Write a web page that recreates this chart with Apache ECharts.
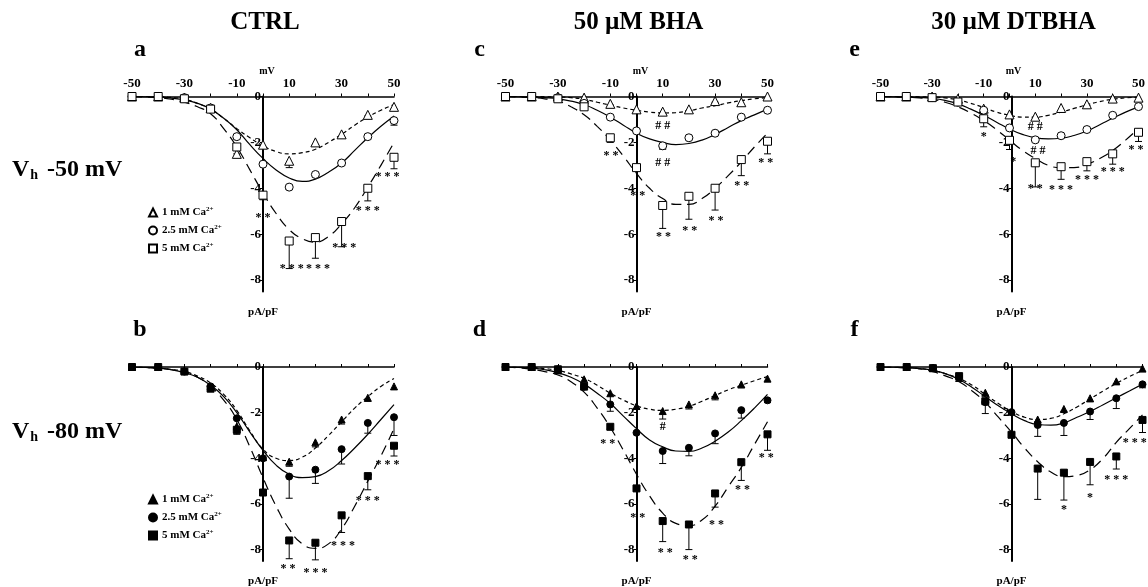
<!DOCTYPE html>
<html>
<head>
<meta charset="utf-8">
<script src="https://cdn.jsdelivr.net/npm/echarts@6/dist/echarts.min.js"></script>
<style>
html, body { margin: 0; padding: 0; background: #fff; }
#chart { width: 1148px; height: 587px; }
</style>
</head>
<body>
<div id="chart"></div>
<script>
// test potentials (mV) and points used for the fitted curves
const voltages = [-50, -40, -30, -20, -10, 0, 10, 20, 30, 40, 50];
const fitVoltages = [-50, -45, -40, -35, -30, -25, -20, -15, -10, -5, 0, 5, 10, 15, 20, 25, 30, 35, 40, 45, 50];
const xTickLabels = [-50, -30, -10, 10, 30, 50];
const yTickLabels = [0, -2, -4, -6, -8];
const columnTitles = ['CTRL', '50 µM BHA', '30 µM DTBHA'];
const rowLabels = ['-50 mV', '-80 mV'];
const panelLetters = ['a', 'b', 'c', 'd', 'e', 'f'];
const concentrations = ['1', '2.5', '5'];

// a: CTRL, Vh -50 mV
const aCa1 = [0, 0, -0.05, -0.5, -2.5, -2.1, -2.8, -2.0, -1.65, -0.8, -0.45];
const aCa1Err = [0, 0, 0, 0, 0, 0, 0.3, 0.1, 0.1, 0.05, 0.1];
const aCa2 = [0, 0, -0.05, -0.5, -1.75, -2.95, -3.95, -3.4, -2.9, -1.75, -1.05];
const aCa2Err = [0, 0, 0, 0, 0.1, 0, 0.1, 0.1, 0.1, 0.1, 0.2];
const aCa3 = [0, 0, -0.1, -0.55, -2.2, -4.3, -6.3, -6.15, -5.45, -4.0, -2.65];
const aCa3Err = [0, 0, 0, 0.1, 0.3, 0.2, 1.2, 0.9, 1.1, 0.55, 0.5];
const aFit1 = [0, 0, -0.01, -0.04, -0.12, -0.3, -0.55, -0.95, -1.4, -1.8, -2.15, -2.4, -2.5, -2.45, -2.3, -2.0, -1.65, -1.25, -0.9, -0.6, -0.35];
const aFit2 = [0, -0.01, -0.02, -0.07, -0.15, -0.3, -0.55, -0.95, -1.45, -2.1, -2.7, -3.2, -3.55, -3.7, -3.6, -3.3, -2.9, -2.35, -1.8, -1.3, -0.85];
const aFit3 = [0, -0.02, -0.05, -0.12, -0.25, -0.45, -0.75, -1.4, -2.2, -3.2, -4.2, -5.1, -5.8, -6.2, -6.35, -6.1, -5.55, -4.85, -3.95, -3.0, -2.0];
const aMarks = [[0, -5.3, '* *'], [11, -7.5, '* * *'], [21, -7.5, '* * *'], [31, -6.6, '* * *'], [40, -5.0, '* * *'], [47.5, -3.5, '* * *']];

// b: CTRL, Vh -80 mV
const bCa1 = [0, 0, -0.15, -0.85, -2.6, -3.95, -4.15, -3.3, -2.3, -1.35, -0.85];
const bCa1Err = [0, 0, 0, 0.1, 0.3, 0.1, 0.2, 0.2, 0.2, 0.15, 0];
const bCa2 = [0, 0, -0.2, -0.85, -2.25, -4.0, -4.8, -4.5, -3.6, -2.45, -2.2];
const bCa2Err = [0, 0, 0, 0.1, 0.45, 0.1, 0.95, 0.6, 0.65, 0.45, 0.8];
const bCa3 = [0, 0, -0.2, -0.95, -2.75, -5.5, -7.6, -7.7, -6.5, -4.78, -3.45];
const bCa3Err = [0, 0, 0, 0.1, 0.2, 0.1, 0.8, 0.75, 0.75, 0.6, 0.45];
const bFit1 = [0, -0.02, -0.05, -0.1, -0.2, -0.4, -0.7, -1.2, -1.9, -2.8, -3.6, -4.0, -4.1, -3.95, -3.55, -3.0, -2.4, -1.8, -1.3, -0.85, -0.5];
const bFit2 = [0, -0.02, -0.05, -0.12, -0.25, -0.45, -0.8, -1.3, -2.0, -2.85, -3.65, -4.3, -4.7, -4.85, -4.8, -4.55, -4.1, -3.55, -2.95, -2.3, -1.65];
const bFit3 = [0, -0.02, -0.05, -0.12, -0.25, -0.45, -0.85, -1.45, -2.3, -3.5, -4.85, -6.1, -7.1, -7.75, -7.95, -7.75, -7.1, -6.1, -5.0, -3.9, -2.7];
const bMarks = [[9.5, -8.85, '* *'], [20, -9.0, '* * *'], [30.5, -7.85, '* * *'], [40, -5.85, '* * *'], [47.5, -4.3, '* * *']];

// c: 50 uM BHA, Vh -50 mV
const cCa1 = [0, 0, 0, -0.05, -0.32, -0.56, -0.66, -0.56, -0.2, -0.25, 0];
const cCa1Err = [0, 0, 0, 0, 0.05, 0, 0.05, 0.05, 0.05, 0, 0];
const cCa2 = [0, 0, -0.05, -0.3, -0.9, -1.5, -2.15, -1.8, -1.6, -0.9, -0.6];
const cCa2Err = [0, 0, 0, 0, 0.05, 0, 0.15, 0.05, 0.05, 0, 0];
const cCa3 = [0, 0, -0.1, -0.45, -1.8, -3.1, -4.75, -4.35, -4.0, -2.75, -1.95];
const cCa3Err = [0, 0, 0, 0.1, 0.2, 0.1, 1.0, 1.0, 0.95, 0.7, 0.55];
const cFit1 = [0, 0, 0, -0.01, -0.02, -0.05, -0.12, -0.25, -0.38, -0.5, -0.6, -0.68, -0.72, -0.7, -0.62, -0.5, -0.4, -0.28, -0.18, -0.1, -0.05];
const cFit2 = [0, -0.01, -0.02, -0.05, -0.1, -0.2, -0.35, -0.6, -0.9, -1.25, -1.6, -1.85, -2.0, -2.1, -2.05, -1.9, -1.65, -1.35, -1.05, -0.8, -0.55];
const cFit3 = [0, -0.02, -0.05, -0.1, -0.2, -0.45, -0.8, -1.3, -1.9, -2.6, -3.35, -4.0, -4.45, -4.7, -4.7, -4.45, -4.0, -3.45, -2.85, -2.2, -1.6];
const cMarks = [[10, -1.3, '# #'], [10, -2.9, '# #'], [-9.7, -2.57, '* *'], [0.5, -4.33, '* *'], [10.3, -6.1, '* *'], [20.3, -5.84, '* *'], [30.3, -5.43, '* *'], [40.2, -3.89, '* *'], [49.3, -2.91, '* *']];

// d: 50 uM BHA, Vh -80 mV
const dCa1 = [0, 0, -0.15, -0.54, -1.15, -1.71, -1.93, -1.64, -1.24, -0.76, -0.51];
const dCa1Err = [0, 0, 0, 0, 0.45, 0, 0.35, 0.2, 0.2, 0.15, 0];
const dCa2 = [0, 0, -0.1, -0.86, -1.64, -2.88, -3.68, -3.54, -2.91, -1.89, -1.46];
const dCa2Err = [0, 0, 0, 0, 0.3, 0, 0.55, 0.35, 0.45, 0.35, 0.1];
const dCa3 = [0, 0, -0.1, -0.86, -2.62, -5.32, -6.75, -6.9, -5.54, -4.17, -2.95];
const dCa3Err = [0, 0, 0, 0, 0.1, 0, 0.9, 1.1, 0.6, 0.8, 0.7];
const dFit1 = [0, -0.01, -0.02, -0.07, -0.15, -0.3, -0.5, -0.8, -1.15, -1.45, -1.7, -1.85, -1.9, -1.85, -1.72, -1.5, -1.25, -1.0, -0.8, -0.6, -0.42];
const dFit2 = [0, -0.02, -0.05, -0.12, -0.25, -0.45, -0.75, -1.15, -1.6, -2.15, -2.7, -3.2, -3.5, -3.68, -3.7, -3.55, -3.25, -2.85, -2.35, -1.8, -1.2];
const dFit3 = [0, -0.04, -0.1, -0.2, -0.35, -0.65, -1.1, -1.8, -2.65, -3.65, -4.7, -5.65, -6.4, -6.85, -6.95, -6.7, -6.1, -5.25, -4.4, -3.4, -2.4];
const dMarks = [[10, -2.62, '#'], [-11, -3.35, '* *'], [0.5, -6.6, '* *'], [11, -8.14, '* *'], [20.5, -8.44, '* *'], [30.5, -6.9, '* *'], [40.5, -5.37, '* *'], [49.5, -3.98, '* *']];

// e: 30 uM DTBHA, Vh -50 mV
const eCa1 = [0, 0, 0, -0.1, -0.53, -0.78, -0.88, -0.5, -0.34, -0.09, -0.05];
const eCa1Err = [0, 0, 0, 0, 0.2, 0, 0.05, 0, 0.05, 0, 0];
const eCa2 = [0, 0, -0.05, -0.25, -0.6, -1.37, -1.89, -1.71, -1.44, -0.82, -0.44];
const eCa2Err = [0, 0, 0, 0, 0.05, 0, 0.05, 0, 0, 0, 0];
const eCa3 = [0, 0, -0.05, -0.24, -0.97, -1.91, -2.89, -3.06, -2.84, -2.5, -1.56];
const eCa3Err = [0, 0, 0, 0, 0.35, 0.4, 1.05, 0.55, 0.4, 0.45, 0.4];
const eFit1 = [0, 0, 0, -0.01, -0.02, -0.06, -0.15, -0.3, -0.48, -0.68, -0.82, -0.9, -0.9, -0.82, -0.68, -0.52, -0.36, -0.22, -0.12, -0.06, -0.03];
const eFit2 = [0, -0.01, -0.02, -0.04, -0.08, -0.17, -0.32, -0.55, -0.82, -1.12, -1.42, -1.65, -1.8, -1.85, -1.82, -1.7, -1.5, -1.23, -0.95, -0.68, -0.45];
const eFit3 = [0, -0.01, -0.03, -0.06, -0.12, -0.25, -0.45, -0.72, -1.05, -1.45, -1.9, -2.35, -2.7, -3.0, -3.1, -3.1, -2.95, -2.7, -2.35, -1.9, -1.4];
const eMarks = [[10, -1.34, '# #'], [11, -2.36, '# #'], [-10, -1.74, '*'], [1.5, -2.84, '*'], [10, -4.02, '* *'], [20, -4.05, '* * *'], [30, -3.65, '* * *'], [40, -3.28, '* * *'], [49, -2.33, '* *']];

// f: 30 uM DTBHA, Vh -80 mV
const fCa1 = [0, 0, -0.05, -0.48, -1.13, -1.95, -2.3, -1.84, -1.37, -0.63, -0.07];
const fCa1Err = [0, 0, 0, 0, 0.1, 0, 0.1, 0.1, 0.15, 0.1, 0];
const fCa2 = [0, 0, -0.05, -0.44, -1.54, -1.98, -2.54, -2.45, -1.95, -1.37, -0.76];
const fCa2Err = [0, 0, 0, 0.1, 0.5, 0, 0.5, 0.55, 0.35, 0.45, 0.15];
const fCa3 = [0, 0, -0.05, -0.4, -1.5, -2.97, -4.45, -4.63, -4.16, -3.92, -2.32];
const fCa3Err = [0, 0, 0, 0, 0.1, 0, 1.35, 1.2, 1.0, 0.55, 0.55];
const fFit1 = [0, -0.01, -0.03, -0.07, -0.15, -0.3, -0.5, -0.8, -1.2, -1.6, -1.95, -2.2, -2.3, -2.25, -2.05, -1.75, -1.4, -1.05, -0.72, -0.42, -0.15];
const fFit2 = [0, -0.01, -0.03, -0.07, -0.15, -0.3, -0.55, -0.9, -1.3, -1.7, -2.05, -2.35, -2.52, -2.55, -2.45, -2.2, -1.95, -1.65, -1.35, -1.05, -0.75];
const fFit3 = [0, -0.01, -0.03, -0.08, -0.2, -0.4, -0.65, -1.05, -1.55, -2.2, -2.85, -3.55, -4.15, -4.6, -4.8, -4.75, -4.5, -4.0, -3.3, -2.7, -2.1];
const fMarks = [[47, -3.33, '* * *'], [40, -4.95, '* * *'], [30, -5.73, '*'], [20, -6.24, '*']];

const FONT = 'Liberation Serif';
const gridLefts = [132, 505.5, 880.5];
const gridTops = [96.5, 367];
const gridWidth = 262;
const gridHeight = 195;

const panels = [
  { col: 0, row: 0, means: [aCa1, aCa2, aCa3], errs: [aCa1Err, aCa2Err, aCa3Err], fits: [aFit1, aFit2, aFit3], marks: aMarks },
  { col: 0, row: 1, means: [bCa1, bCa2, bCa3], errs: [bCa1Err, bCa2Err, bCa3Err], fits: [bFit1, bFit2, bFit3], marks: bMarks },
  { col: 1, row: 0, means: [cCa1, cCa2, cCa3], errs: [cCa1Err, cCa2Err, cCa3Err], fits: [cFit1, cFit2, cFit3], marks: cMarks },
  { col: 1, row: 1, means: [dCa1, dCa2, dCa3], errs: [dCa1Err, dCa2Err, dCa3Err], fits: [dFit1, dFit2, dFit3], marks: dMarks },
  { col: 2, row: 0, means: [eCa1, eCa2, eCa3], errs: [eCa1Err, eCa2Err, eCa3Err], fits: [eFit1, eFit2, eFit3], marks: eMarks },
  { col: 2, row: 1, means: [fCa1, fCa2, fCa3], errs: [fCa1Err, fCa2Err, fCa3Err], fits: [fFit1, fFit2, fFit3], marks: fMarks }
];

const symbols = ['triangle', 'circle', 'rect'];
const symbolSizes = [[9, 8, 8], [7, 7, 7]];
const fitDash = [[4, 3], 'solid', [10, 6]];

const grids = [], xAxes = [], yAxes = [], series = [];

panels.forEach((p, i) => {
  const top = p.row === 0;
  grids.push({ left: gridLefts[p.col], top: gridTops[p.row], width: gridWidth, height: gridHeight });
  xAxes.push({
    gridIndex: i, type: 'value', position: 'top', min: -50, max: 50, interval: 10,
    name: top ? 'mV' : '', nameLocation: 'middle', nameGap: 18,
    nameTextStyle: { fontFamily: FONT, fontWeight: 'bold', fontSize: 10, color: '#000', padding: [0, 0, 0, 8] },
    axisLine: { lineStyle: { color: '#000', width: 1.5 } },
    axisTick: { length: 3, lineStyle: { color: '#000' } },
    axisLabel: {
      show: top, margin: 6, fontFamily: FONT, fontWeight: 'bold', fontSize: 13, color: '#000',
      formatter: v => (xTickLabels.indexOf(v) >= 0 ? String(v) : '')
    },
    splitLine: { show: false }
  });
  // the current axis crosses the voltage axis at 0 mV (middle of the grid)
  yAxes.push({
    gridIndex: i, type: 'value', min: -8.5, max: 0, position: 'left', offset: -gridWidth / 2,
    name: 'pA/pF', nameLocation: 'start', nameGap: 15,
    nameTextStyle: { fontFamily: FONT, fontWeight: 'bold', fontSize: 11, color: '#000' },
    axisLine: { onZero: false, lineStyle: { color: '#000', width: 2 } },
    axisTick: { length: 3, customValues: yTickLabels, lineStyle: { color: '#000' } },
    axisLabel: {
      customValues: yTickLabels, margin: 2, fontFamily: FONT, fontWeight: 'bold', fontSize: 13, color: '#000'
    },
    splitLine: { show: false }
  });

  // fitted curves
  p.fits.forEach((fit, k) => {
    series.push({
      type: 'line', xAxisIndex: i, yAxisIndex: i, smooth: true, showSymbol: false, silent: true, z: 2,
      data: fitVoltages.map((v, j) => [v, fit[j]]),
      lineStyle: { color: '#000', width: 1.2, type: fitDash[k] }
    });
  });

  // error bars (one-sided, away from zero)
  p.means.forEach((m, k) => {
    const err = p.errs[k];
    series.push({
      type: 'custom', xAxisIndex: i, yAxisIndex: i, z: 3, silent: true,
      data: voltages.map((v, j) => [v, m[j], m[j] - err[j]]),
      renderItem: (params, api) => {
        if (api.value(1) === api.value(2)) return null;
        const p1 = api.coord([api.value(0), api.value(1)]);
        const p2 = api.coord([api.value(0), api.value(2)]);
        const st = { stroke: '#000', lineWidth: 1 };
        return {
          type: 'group', children: [
            { type: 'line', shape: { x1: p1[0], y1: p1[1], x2: p2[0], y2: p2[1] }, style: st },
            { type: 'line', shape: { x1: p2[0] - 3.5, y1: p2[1], x2: p2[0] + 3.5, y2: p2[1] }, style: st }
          ]
        };
      }
    });
  });

  // mean markers
  p.means.forEach((m, k) => {
    series.push({
      name: (top ? 'o' : 'f') + (k + 1),
      type: 'scatter', xAxisIndex: i, yAxisIndex: i, z: 4, clip: false, silent: true,
      symbol: symbols[k], symbolSize: symbolSizes[p.row][k],
      itemStyle: { color: top ? '#fff' : '#000', borderColor: '#000', borderWidth: 1, opacity: 1 },
      data: voltages.map((v, j) => [v, m[j]])
    });
  });

  // significance marks
  series.push({
    type: 'custom', xAxisIndex: i, yAxisIndex: i, z: 5, silent: true,
    data: p.marks.map(mk => [mk[0], mk[1]]),
    renderItem: (params, api) => {
      const c = api.coord([api.value(0), api.value(1)]);
      return {
        type: 'text',
        style: {
          x: c[0], y: c[1], text: p.marks[params.dataIndex][2], align: 'center', verticalAlign: 'middle',
          font: 'bold 12px "' + FONT + '"', fill: '#000'
        }
      };
    }
  });
});

const legendBase = {
  orient: 'vertical', left: 143, itemWidth: 8, itemHeight: 8, itemGap: 6, selectedMode: false,
  formatter: name => '{t|' + concentrations[+name.slice(1) - 1] + ' mM Ca}{s|2+}',
  textStyle: {
    color: '#000',
    rich: {
      t: { fontFamily: FONT, fontWeight: 'bold', fontSize: 11, color: '#000', lineHeight: 13 },
      s: { fontFamily: FONT, fontWeight: 'bold', fontSize: 7, color: '#000', verticalAlign: 'top', lineHeight: 8 }
    }
  }
};

const graphics = [];
columnTitles.forEach((t, c) => {
  graphics.push({
    type: 'text',
    style: { x: gridLefts[c] + gridWidth / 2 + 2, y: 23, text: t, align: 'center', verticalAlign: 'middle',
      font: 'bold 25px "' + FONT + '"', fill: '#000' }
  });
});
panels.forEach((p, i) => {
  graphics.push({
    type: 'text',
    style: { x: gridLefts[p.col] - (p.col === 0 ? -8 : 26), y: p.row === 0 ? 50 : 330, text: panelLetters[i],
      align: 'center', verticalAlign: 'middle', font: 'bold 24px "' + FONT + '"', fill: '#000' }
  });
});
rowLabels.forEach((t, r) => {
  graphics.push({
    type: 'text',
    style: {
      x: 12, y: r === 0 ? 170 : 432, verticalAlign: 'middle',
      text: '{v|V}{h|h}{r| ' + t + '}',
      rich: {
        v: { font: 'bold 24px "' + FONT + '"', fill: '#000' },
        h: { font: 'bold 14px "' + FONT + '"', fill: '#000', verticalAlign: 'bottom', padding: [0, 3, 0, 1] },
        r: { font: 'bold 24px "' + FONT + '"', fill: '#000' }
      }
    }
  });
});

const chart = echarts.init(document.getElementById('chart'), null, { renderer: 'canvas' });
chart.setOption({
  backgroundColor: '#fff',
  animation: false,
  textStyle: { fontFamily: FONT },
  grid: grids,
  xAxis: xAxes,
  yAxis: yAxes,
  legend: [
    Object.assign({}, legendBase, { top: 201, data: ['o1', 'o2', 'o3'] }),
    Object.assign({}, legendBase, { top: 488, data: ['f1', 'f2', 'f3'] })
  ],
  graphic: graphics,
  series: series
});
</script>
</body>
</html>
